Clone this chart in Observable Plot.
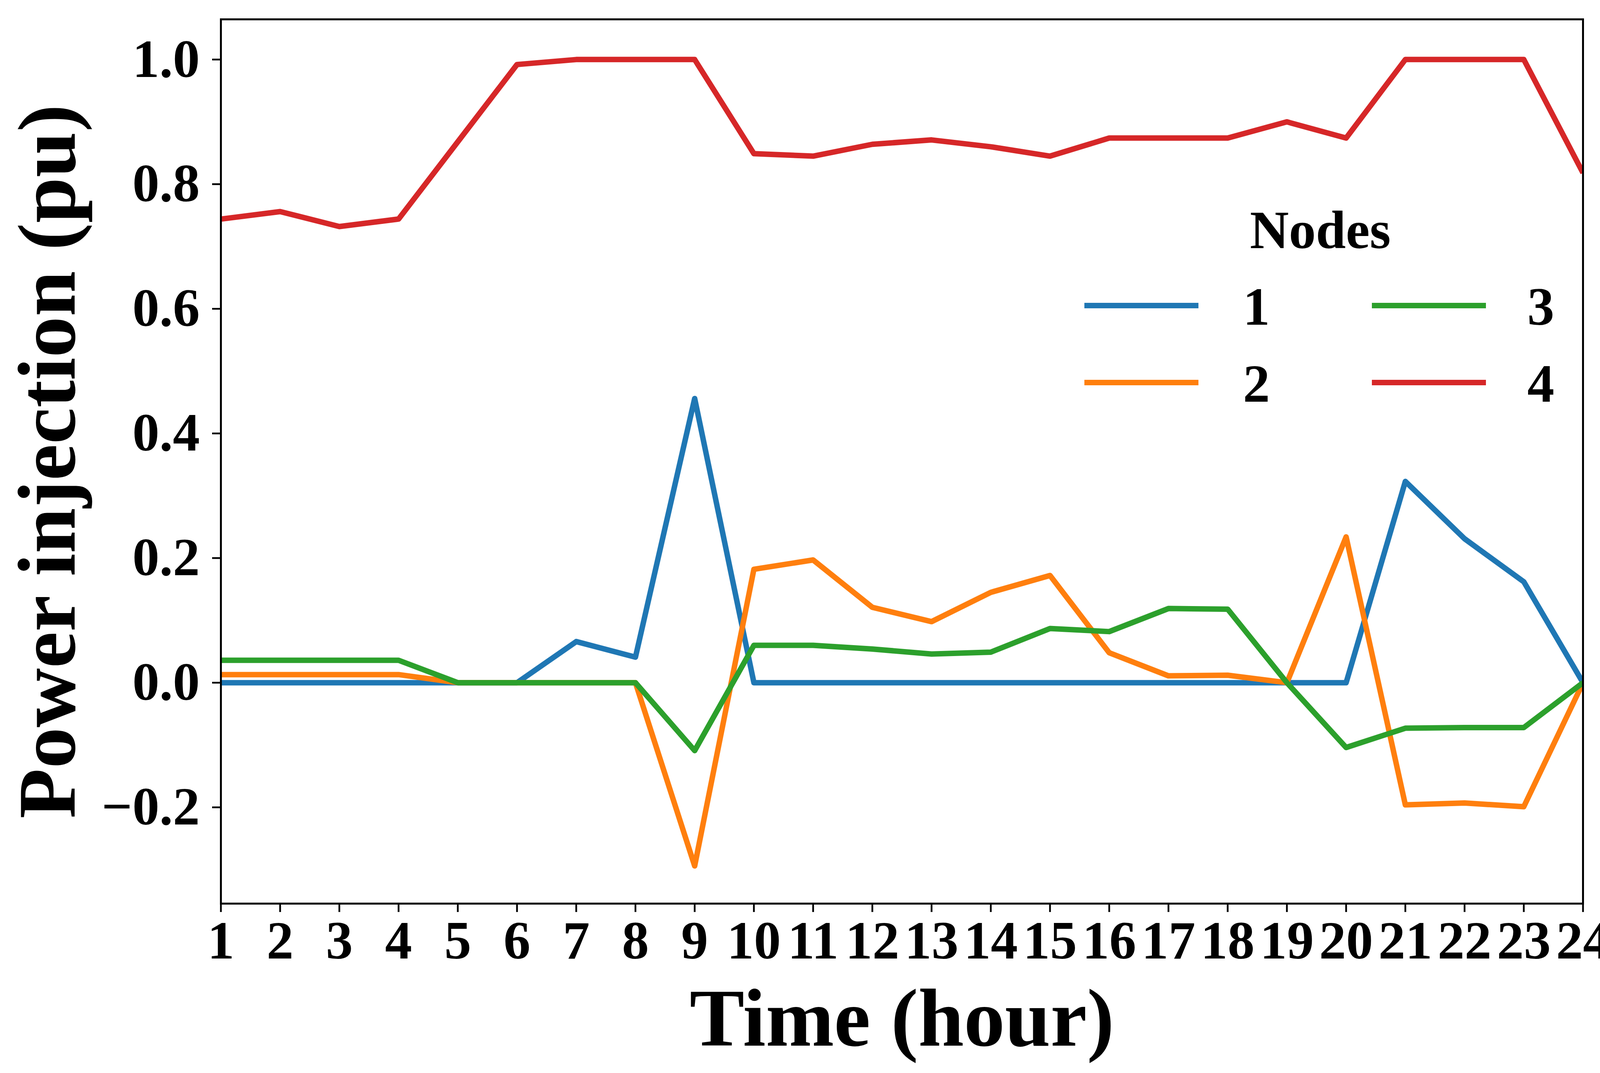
<!DOCTYPE html>
<html>
<head>
<meta charset="utf-8">
<script src="https://cdn.jsdelivr.net/npm/d3@7"></script>
<script src="https://cdn.jsdelivr.net/npm/@observablehq/plot@0.6"></script>
<style>
  html, body { margin: 0; padding: 0; background: #fff; overflow: hidden; }
  #wrap { position: relative; width: 4172px; height: 2746px; }
  #wrap > svg { display: block; }
  #legend { position: absolute; left: 0; top: 0; pointer-events: none; }
</style>
</head>
<body>
<div id="wrap"></div>
<script>
// ---- data ----
const hours = [1,2,3,4,5,6,7,8,9,10,11,12,13,14,15,16,17,18,19,20,21,22,23,24];
const node1 = [0,0,0,0,0,0,0.066,0.041,0.456,0,0,0,0,0,0,0,0,0,0,0,0.323,0.231,0.162,0];
const node2 = [0.013,0.013,0.013,0.013,0,0,0,0,-0.294,0.182,0.197,0.121,0.098,0.145,0.172,0.048,0.011,0.012,0,0.234,-0.196,-0.193,-0.199,0];
const node3 = [0.036,0.036,0.036,0.036,0,0,0,0,-0.109,0.060,0.060,0.054,0.046,0.049,0.087,0.082,0.119,0.118,0,-0.104,-0.073,-0.072,-0.072,0];
const node4 = [0.744,0.756,0.732,0.744,0.868,0.992,1.0,1.0,1.0,0.849,0.845,0.864,0.871,0.860,0.845,0.874,0.874,0.874,0.900,0.874,1.0,1.0,1.0,0.818];
const nodeNames = ["1","2","3","4"];
const nodeColors = ["#1f77b4","#ff7f0e","#2ca02c","#d62728"];
const yTicks = [-0.2,0,0.2,0.4,0.6,0.8,1.0];
const xLabel = "Time (hour)";
const yLabel = "Power injection (pu)";
const legendTitle = "Nodes";

const series = [node1, node2, node3, node4];
const rows = series.map(vals => hours.map((h, i) => ({hour: h, value: vals[i]})));

const W = 4172, H = 2746;
const mL = 565, mR = 120, mT = 49, mB = 434;
const lineW = 14;

const plot = Plot.plot({
  width: W,
  height: H,
  marginLeft: mL,
  marginRight: mR,
  marginTop: mT,
  marginBottom: mB,
  style: {fontFamily: "'Liberation Serif', 'Times New Roman', serif", fontWeight: "bold", fontSize: "138px", background: "#fff", color: "#000", overflow: "visible"},
  x: {domain: [1, 24]},
  y: {domain: [-0.3545, 1.0645]},
  marks: [
    ...rows.map((r, k) => Plot.line(r, {x: "hour", y: "value", stroke: nodeColors[k], strokeWidth: lineW, strokeLinejoin: "round", strokeLinecap: "butt", clip: true})),
    Plot.frame({stroke: "#000", strokeWidth: 5}),
    Plot.axisX({ticks: hours, tickSize: 22, tickPadding: 21, strokeWidth: 4.5, fontSize: 138, label: null, tickFormat: d => String(d)}),
    Plot.axisY({ticks: yTicks, tickSize: 22, tickPadding: 32, strokeWidth: 4.5, fontSize: 138, label: null, tickFormat: d => d.toFixed(1).replace("-", "\u2212")}),
    Plot.text([xLabel], {text: d => d, frameAnchor: "bottom", dy: 2675 - (H - mB), lineAnchor: "bottom", textAnchor: "middle", fontSize: 210, fontWeight: "bold"}),
    Plot.text([yLabel], {text: d => d, frameAnchor: "left", dx: 190 - mL, rotate: -90, lineAnchor: "bottom", textAnchor: "middle", fontSize: 210, fontWeight: "bold"})
  ]
});
document.getElementById("wrap").appendChild(plot);

// ---- legend overlay ----
const lg = d3.select("#wrap").append("svg")
  .attr("id", "legend")
  .attr("width", W).attr("height", H)
  .style("font-family", "'Liberation Serif', 'Times New Roman', serif")
  .style("font-weight", "bold");
lg.append("text").attr("x", 3380).attr("y", 635).attr("text-anchor", "middle")
  .attr("font-size", 138).text(legendTitle);
const cols = [{x0: 2776, x1: 3068, tx: 3182}, {x0: 3512, x1: 3804, tx: 3910}];
const rowY = [782, 979];
nodeNames.forEach((name, i) => {
  const c = cols[Math.floor(i / 2)], y = rowY[i % 2];
  lg.append("line").attr("x1", c.x0).attr("x2", c.x1).attr("y1", y).attr("y2", y)
    .attr("stroke", nodeColors[i]).attr("stroke-width", lineW);
  lg.append("text").attr("x", c.tx).attr("y", y + 49).attr("font-size", 138).text(name);
});
</script>
</body>
</html>
